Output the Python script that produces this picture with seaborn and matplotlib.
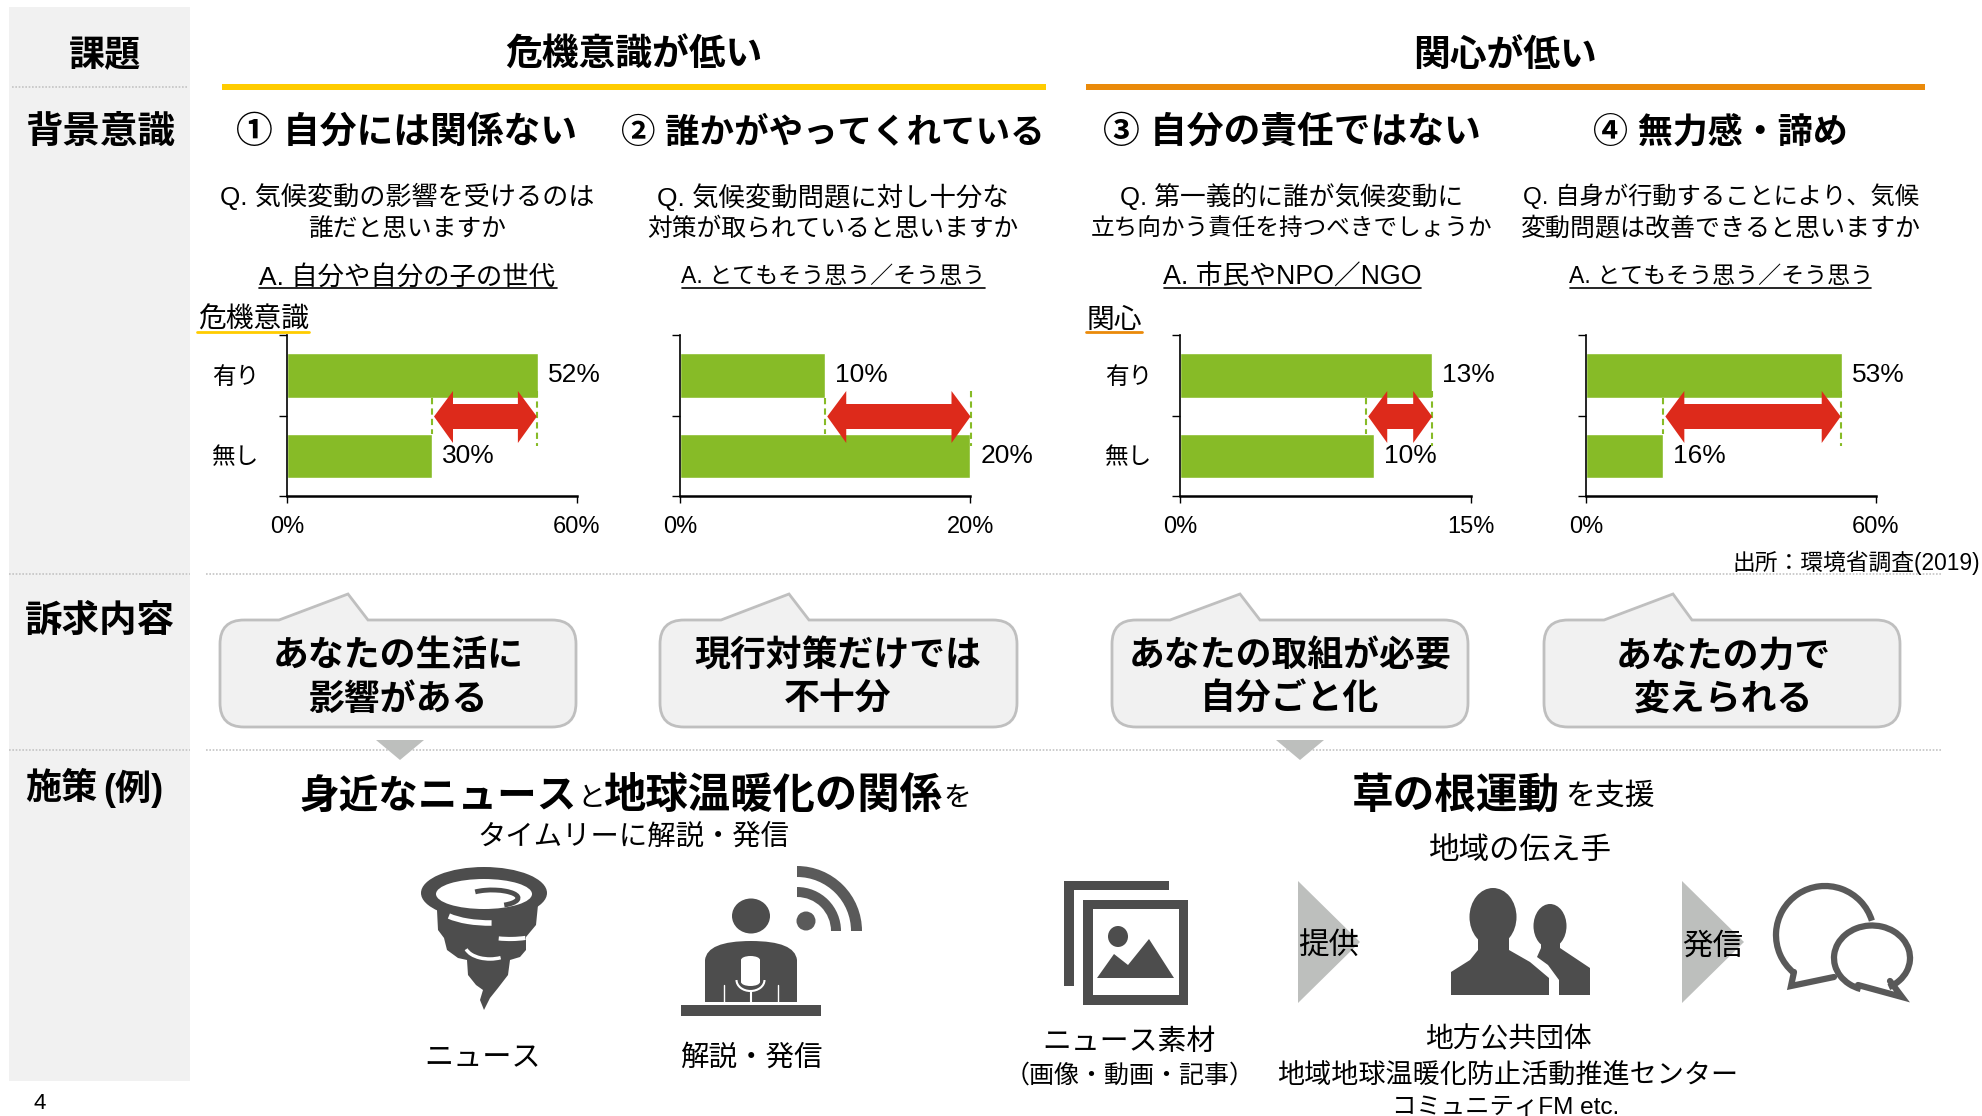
import numpy as np
import pandas as pd
import seaborn as sns
import matplotlib
matplotlib.use('Agg')
import matplotlib.pyplot as plt
from matplotlib.patches import Rectangle, Ellipse, Polygon, PathPatch, Wedge, Arc
from matplotlib.path import Path

# data
categories = ['有り', '無し']
values_1 = [52, 30]
values_2 = [10, 20]
values_3 = [13, 10]
values_4 = [53, 16]
axis_max = [60, 20, 15, 60]
chart_values = [values_1, values_2, values_3, values_4]
# the red arrows do not sit exactly on the bar ends in the original
arrow_from = [30, 10, 9.6, 16]
arrow_to = [51.7, 20, 13, 52.7]

heads = ['① 自分には関係ない', '② 誰かがやってくれている', '③ 自分の責任ではない', '④ 無力感・諦め']
questions = [['Q. 気候変動の影響を受けるのは', '誰だと思いますか'],
             ['Q. 気候変動問題に対し十分な', '対策が取られていると思いますか'],
             ['Q. 第一義的に誰が気候変動に', '立ち向かう責任を持つべきでしょうか'],
             ['Q. 自身が行動することにより、気候', '変動問題は改善できると思いますか']]
answers = ['A. 自分や自分の子の世代', 'A. とてもそう思う／そう思う', 'A. 市民やNPO／NGO', 'A. とてもそう思う／そう思う']
appeals = [['あなたの生活に', '影響がある'], ['現行対策だけでは', '不十分'],
           ['あなたの取組が必要', '自分ごと化'], ['あなたの力で', '変えられる']]

sns.set_theme(style='white')
plt.rcParams['font.family'] = ['Liberation Sans', 'Noto Sans CJK JP', 'DejaVu Sans']

W, H = 1983, 1116
GREEN = '#87BB27'
RED = '#DD2A1B'
DARK = '#4D4D4D'
GREY = '#BDBFBD'
PANEL = '#F1F1F1'

fig = plt.figure(figsize=(W / 100, H / 100), dpi=100, facecolor='white')

# background axes in pixel coordinates
bg = fig.add_axes([0, 0, 1, 1], zorder=0)
bg.set_xlim(0, W)
bg.set_ylim(H, 0)
bg.axis('off')

# overlay for arrows, texts, icons
ov = fig.add_axes([0, 0, 1, 1], zorder=5)
ov.set_xlim(0, W)
ov.set_ylim(H, 0)
ov.axis('off')
ov.patch.set_alpha(0)

bg.add_patch(Rectangle((9, 7), 181, 1074, fc=PANEL, ec='none'))


def txt(x, y, s, size=18, bold=False, ha='center', color='black'):
    # noto sits a little high with va=center, more so at big sizes
    ov.text(x, y + 0.2 * size - 2, s, fontsize=size, fontweight='bold' if bold else 'normal',
            ha=ha, va='center', color=color)


def dots(x0, x1, y):
    ov.plot([x0, x1], [y, y], color='#C4C4C4', lw=1.2, ls=(0, (1, 1)))


dots(12, 187, 86.5)
for yy in (574, 750):
    dots(9, 190, yy)
    dots(206, 1942, yy)

# section titles
txt(105, 53, '課題', 26, True)
txt(100, 130, '背景意識', 27, True)
txt(100, 619, '訴求内容', 27, True)
txt(25, 786, '施策', 26, True, ha='left')
txt(103, 786, '(例)', 26, True, ha='left')

txt(634, 53, '危機意識が低い', 26.5, True)
txt(1505, 53, '関心が低い', 26.5, True)
ov.add_patch(Rectangle((222, 84), 824, 6, fc='#FFCC00', ec='none'))
ov.add_patch(Rectangle((1086, 84), 839, 6, fc='#EA8A0A', ec='none'))

# column texts
head_x = [407, 833, 1292, 1720]
head_size = [26.5, 24.8, 26.5, 25.2]
q_x = [407, 833, 1292, 1721]
q_size = [[18.8, 17.8], [19, 17.8], [18.5, 17], [17.5, 18]]
a_size = [19, 16.6, 19.3, 16.6]
a_lines = [(259, 557), (682, 985), (1164, 1421), (1570, 1871)]
for i in range(4):
    txt(head_x[i], 130, heads[i], head_size[i], True)
    txt(q_x[i], 195, questions[i][0], q_size[i][0])
    txt(q_x[i], 227.5, questions[i][1], q_size[i][1])
    txt(q_x[i], 275.5, answers[i], a_size[i])
    ov.plot(a_lines[i], [287.5, 287.5], color='black', lw=1.2)

txt(198, 319, '危機意識', 20, ha='left')
ov.plot([197, 309], [332, 332], color='#FFCC00', lw=2)
txt(1087, 319, '関心', 20, ha='left')
ov.plot([1086, 1142], [332, 332], color='#EA8A0A', lw=2)
txt(1980, 562, '出所：環境省調査(2019)', 16.4, ha='right')

# bar charts
chart_left = [287, 680, 1180, 1586]
chart_right = [577, 970.5, 1471, 1876]
top, bottom = 335, 496.5
for i in range(4):
    x0, x1 = chart_left[i], chart_right[i]
    ax = fig.add_axes([x0 / W, 1 - bottom / H, (x1 - x0) / W, (bottom - top) / H], zorder=2)
    ax.patch.set_alpha(0)
    df = pd.DataFrame({'cat': categories, 'val': chart_values[i]})
    sns.barplot(data=df, x='val', y='cat', orient='h', color=GREEN, saturation=1,
                width=0.55, ax=ax)
    ax.set_xlim(0, axis_max[i])
    ax.set_ylim(1.5, -0.5)
    ax.set_xlabel('')
    ax.set_ylabel('')
    sns.despine(ax=ax)
    ax.spines['left'].set_linewidth(1.2)
    ax.spines['left'].set_color('black')
    ax.spines['bottom'].set_linewidth(1.8)
    ax.spines['bottom'].set_color('black')
    ax.set_xticks([0, axis_max[i]])
    ax.set_xticklabels(['0%', f'{axis_max[i]}%'], fontsize=17)
    ax.tick_params(axis='x', bottom=True, length=5, width=1, pad=9, colors='black')
    ax.set_yticks([0, 1])
    if i % 2 == 0:
        ax.set_yticklabels(categories, fontsize=17)
    else:
        ax.set_yticklabels(['', ''])
    ax.tick_params(axis='y', which='major', left=False, length=0, pad=20, colors='black')
    ax.set_yticks([-0.5, 0.5, 1.5], minor=True)
    ax.tick_params(axis='y', which='minor', left=True, length=6, width=1, color='black')
    ax.bar_label(ax.containers[0], labels=[f'{v}%' for v in chart_values[i]],
                 padding=7, fontsize=19, color='black')

    # gap arrow between the two values
    xa = x0 + arrow_from[i] / axis_max[i] * (x1 - x0)
    xb = x0 + arrow_to[i] / axis_max[i] * (x1 - x0)
    ov.plot([xa, xa], [398, 434], color=GREEN, lw=1.5, ls=(0, (3, 2)))
    ov.plot([xb, xb], [391, 446], color=GREEN, lw=1.5, ls=(0, (3, 2)))
    hl = 19
    ov.add_patch(Polygon([(xa + 2, 416.5), (xa + 2 + hl, 391), (xa + 2 + hl, 404), (xb - hl, 404),
                          (xb - hl, 391), (xb, 416.5), (xb - hl, 443),
                          (xb - hl, 429), (xa + 2 + hl, 429), (xa + 2 + hl, 443)],
                         fc=RED, ec='none', zorder=4))


# callouts
def callout(x0, x1, p, tip, q):
    y0, y1, r = 620, 727, 24
    verts = [(x0 + r, y0), (p, y0), (tip, 594), (q, y0), (x1 - r, y0), (x1, y0), (x1, y0 + r),
             (x1, y1 - r), (x1, y1), (x1 - r, y1), (x0 + r, y1), (x0, y1), (x0, y1 - r),
             (x0, y0 + r), (x0, y0), (x0 + r, y0)]
    codes = [Path.MOVETO, Path.LINETO, Path.LINETO, Path.LINETO, Path.LINETO, Path.CURVE3, Path.CURVE3,
             Path.LINETO, Path.CURVE3, Path.CURVE3, Path.LINETO, Path.CURVE3, Path.CURVE3,
             Path.LINETO, Path.CURVE3, Path.CURVE3]
    ov.add_patch(PathPatch(Path(verts, codes), fc='#F1F1F1', ec='#BFBFBF', lw=2))


boxes = [(220, 576, 279, 348, 368), (660, 1017, 721, 789, 809),
         (1112, 1468, 1170, 1240, 1260), (1544, 1900, 1604, 1673, 1692)]
appeal_x = [398, 838, 1290, 1723]
for i, b in enumerate(boxes):
    callout(*b)
    txt(appeal_x[i], 653.5, appeals[i][0], 25.8, True)
    txt(appeal_x[i], 697, appeals[i][1], 25.8, True)

for xc in (400, 1300):
    ov.add_patch(Polygon([(xc - 24, 740), (xc + 24, 740), (xc, 760)], fc=GREY, ec='none', zorder=3))

# measures: left
txt(300, 793, '身近なニュース', 28.5, True, ha='left')
txt(577, 797, 'と', 20, ha='left')
txt(603, 793, '地球温暖化の関係', 30.5, True, ha='left')
txt(943, 797, 'を', 20, ha='left')
txt(633, 835, 'タイムリーに解説・発信', 20.4)

# tornado
ov.add_patch(Polygon([(437, 910), (538, 905), (536, 925), (526, 937), (526, 950), (520, 957), (510, 960),
                      (508, 975), (498, 988), (490, 998), (484, 1010), (480, 1000), (483, 990),
                      (476, 985), (468, 975), (467, 960), (458, 958), (447, 950), (444, 938),
                      (438, 930)], fc=DARK, ec='none'))
ov.add_patch(Ellipse((484, 893), 126, 52, fc=DARK, ec='none'))
ov.add_patch(Ellipse((484, 894), 96, 30, fc='white', ec='none'))
ov.add_patch(Arc((492, 898), 52, 16, theta1=200, theta2=390, color=DARK, lw=3.5))
ov.add_patch(Arc((490, 905), 104, 36, theta1=85, theta2=165, color='white', lw=4))
ov.add_patch(Arc((510, 925), 80, 28, theta1=40, theta2=130, color='white', lw=3))
ov.add_patch(Arc((490, 945), 50, 28, theta1=50, theta2=170, color='white', lw=2.5))

# reporter
ov.add_patch(Ellipse((751, 916), 38, 35, fc=DARK, ec='none'))
body = Path([(705, 1002), (705, 960), (707, 941), (751, 941), (795, 941), (797, 960), (797, 1002), (705, 1002)],
            [Path.MOVETO, Path.LINETO, Path.CURVE3, Path.CURVE3, Path.CURVE3, Path.CURVE3, Path.LINETO, Path.CLOSEPOLY])
ov.add_patch(PathPatch(body, fc=DARK, ec='none'))
ov.add_patch(Rectangle((681, 1005), 140, 11, fc=DARK, ec='none'))
ov.add_patch(Rectangle((741, 960), 19, 22, fc='white', ec='none'))
ov.add_patch(Ellipse((750.5, 960), 19, 8, fc='white', ec='none'))
ov.add_patch(Ellipse((750.5, 982), 19, 8, fc='white', ec='none'))
ov.add_patch(Arc((750.5, 980), 28, 22, theta1=0, theta2=180, color='white', lw=1.5))
ov.plot([750.5, 750.5], [991, 1002], color='white', lw=1.5)
ov.plot([724, 724], [985, 1002], color='white', lw=1)
ov.plot([778, 778], [985, 1002], color='white', lw=1)
ov.add_patch(Ellipse((806, 921), 19, 19, fc='#5A5A5A', ec='none'))
ov.add_patch(Wedge((797, 931), 65, -90, 0, width=11, fc='#5A5A5A', ec='none'))
ov.add_patch(Wedge((797, 931), 44, -90, 0, width=10, fc='#5A5A5A', ec='none'))
txt(483, 1056, 'ニュース', 21)
txt(751, 1056, '解説・発信', 20.5)

# measures: right
txt(1352, 793, '草の根運動', 30, True, ha='left')
txt(1565, 795, 'を支援', 21.5, ha='left')
txt(1520, 848.5, '地域の伝え手', 22)

# picture icon
ov.add_patch(Rectangle((1064, 881), 105, 9, fc=DARK, ec='none'))
ov.add_patch(Rectangle((1064, 881), 10, 105, fc=DARK, ec='none'))
ov.add_patch(Rectangle((1083, 900), 105, 105, fc=DARK, ec='none'))
ov.add_patch(Rectangle((1093, 909), 86, 86, fc='white', ec='none'))
ov.add_patch(Ellipse((1118, 936.5), 20, 21, fc=DARK, ec='none'))
ov.add_patch(Polygon([(1097, 978), (1114, 954), (1128, 965), (1149, 939), (1174, 978)], fc=DARK, ec='none'))

# triangles
for xt, label in ((1298, '提供'), (1682, '発信')):
    ov.add_patch(Polygon([(xt, 881), (xt + 62, 942), (xt, 1003)], fc=GREY, ec='none'))
    txt(xt + 31, 944, label, 22)

# people icon
ov.add_patch(Ellipse((1493, 917), 47, 58, fc=DARK, ec='none'))
ov.add_patch(Polygon([(1451, 995), (1451, 972), (1470, 960), (1478, 950), (1478, 925), (1509, 925),
                      (1509, 950), (1530, 962), (1549, 978), (1549, 995)], fc=DARK, ec='none'))
ov.add_patch(Ellipse((1550, 926), 33, 44, fc=DARK, ec='none'))
ov.add_patch(Polygon([(1559, 995), (1559, 980), (1548, 965), (1537, 957), (1541, 948), (1541, 930), (1560, 930),
                      (1560, 948), (1575, 958), (1590, 968), (1590, 995)], fc=DARK, ec='none'))

# speech bubbles
bub = '#595959'
ov.add_patch(Arc((1825, 935), 98, 98, theta1=130, theta2=343, color=bub, lw=4.5))
ov.plot([1794, 1791, 1834], [972, 986, 977], color=bub, lw=4.5, solid_joinstyle='miter')
ov.add_patch(Arc((1872, 958), 76, 65, theta1=110, theta2=420, color=bub, lw=4.5))
ov.plot([1858, 1902, 1890], [985, 997, 981], color=bub, lw=4.5, solid_joinstyle='miter')

txt(1128.5, 1040, 'ニュース素材', 20.8)
txt(1130, 1074, '（画像・動画・記事）', 18)
txt(1508, 1038, '地方公共団体', 20)
txt(1508, 1074, '地域地球温暖化防止活動推進センター', 19.5)
txt(1506, 1106, 'コミュニティFM etc.', 17.6)
txt(40, 1102, '4', 16)

fig.savefig('out.png', dpi=100)
